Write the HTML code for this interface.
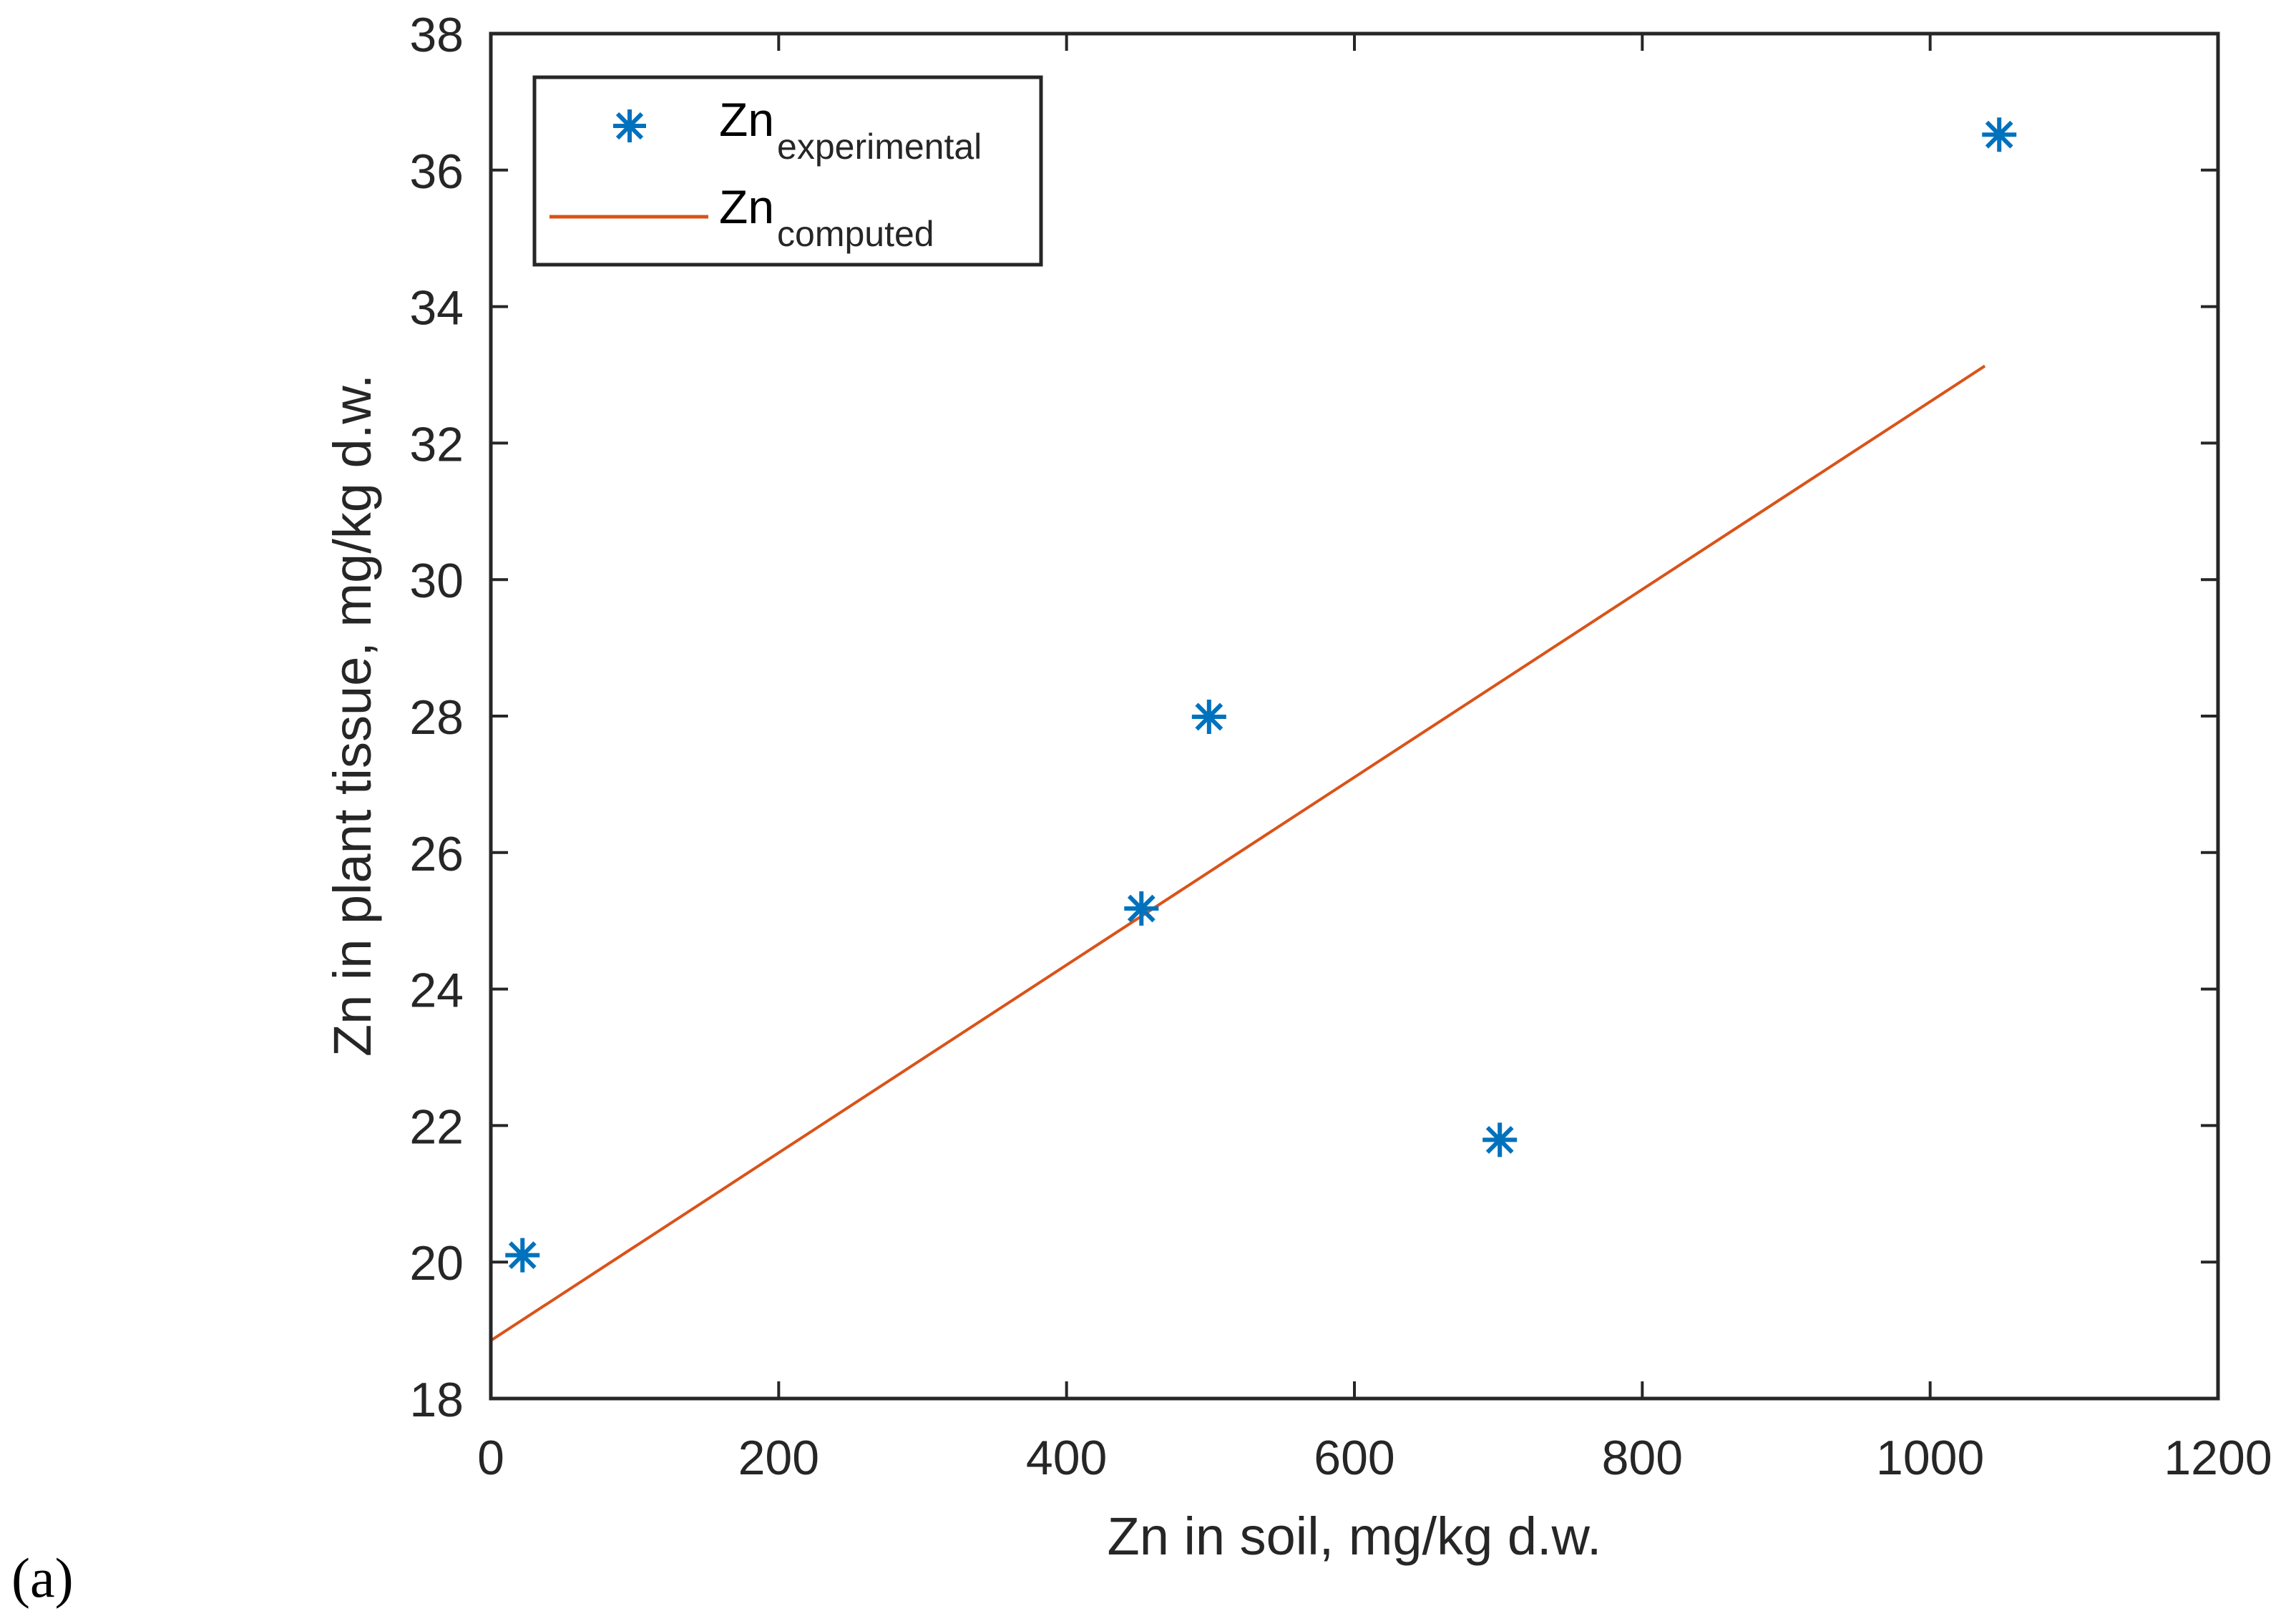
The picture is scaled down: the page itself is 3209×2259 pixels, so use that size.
<!DOCTYPE html>
<html><head><meta charset="utf-8"><style>
html,body{margin:0;padding:0;background:#fff;}
svg{display:block;font-family:"Liberation Sans",Arial,sans-serif;}
</style></head><body>
<svg id="chart" width="3209" height="2259" viewBox="0 0 3209 2259">
<g id="plot"></g>
</svg>
<script>
const xTicks=[0,200,400,600,800,1000,1200];
const yTicks=[18,20,22,24,26,28,30,32,34,36,38];
const expX=[22,452,499,701,1048];
const expY=[20.1,25.18,27.99,21.79,36.52];
const fitX=[0,1038];
const fitY=[18.85,33.13];
const L=686,R=3100,T=47,B=1955;
const sx=v=>L+(v-0)/(1200-0)*(R-L);
const sy=v=>B-(v-18)/(38-18)*(B-T);
const NS='http://www.w3.org/2000/svg';
const g=document.getElementById('plot');
function mk(tag,attrs,parent){const e=document.createElementNS(NS,tag);for(const k in attrs)e.setAttribute(k,attrs[k]);(parent||g).appendChild(e);return e;}
const fl=mk('polyline',{points:fitX.map((x,i)=>sx(x)+','+sy(fitY[i])).join(' '),fill:'none',stroke:'#D95319','stroke-width':4});


function star(cx,cy,r,parent){const s=mk('g',{stroke:'#0072BD','stroke-width':6},parent);
mk('line',{x1:cx-r,y1:cy,x2:cx+r,y2:cy},s);mk('line',{x1:cx,y1:cy-r,x2:cx,y2:cy+r},s);
const d=r*0.72;mk('line',{x1:cx-d,y1:cy-d,x2:cx+d,y2:cy+d},s);mk('line',{x1:cx-d,y1:cy+d,x2:cx+d,y2:cy-d},s);return s;}
expX.forEach((x,i)=>{const s=star(sx(x),sy(expY[i]),24);

});
const box=mk('rect',{x:L,y:T,width:R-L,height:B-T,fill:'none',stroke:'#262626','stroke-width':5});


xTicks.forEach(v=>{const x=sx(v);
mk('line',{x1:x,y1:B,x2:x,y2:B-24,stroke:'#262626','stroke-width':4});
mk('line',{x1:x,y1:T,x2:x,y2:T+24,stroke:'#262626','stroke-width':4});
const t=mk('text',{x:x,y:B+106,'text-anchor':'middle','font-size':68,fill:'#262626'});t.textContent=v;

});
yTicks.forEach(v=>{const y=sy(v);
mk('line',{x1:L,y1:y,x2:L+24,y2:y,stroke:'#262626','stroke-width':4});
mk('line',{x1:R,y1:y,x2:R-24,y2:y,stroke:'#262626','stroke-width':4});
const t=mk('text',{x:648,y:y+25,'text-anchor':'end','font-size':68,fill:'#262626'});t.textContent=v;

});
</script>
<svg style="position:absolute;left:0;top:0" width="3209" height="2259">
<text x="1893" y="2173" text-anchor="middle" font-size="74" fill="#262626" font-family="Liberation Sans, sans-serif">Zn in soil, mg/kg d.w.</text>
<text transform="translate(518,1000) rotate(-90)" text-anchor="middle" font-size="74" fill="#262626" font-family="Liberation Sans, sans-serif">Zn in plant tissue, mg/kg d.w.</text>
<g>
<rect x="747" y="108" width="708" height="262" fill="#fff" stroke="#262626" stroke-width="5"/>
<g stroke="#0072BD" stroke-width="6">
<line x1="857" y1="176" x2="903" y2="176"/><line x1="880" y1="153" x2="880" y2="199"/>
<line x1="863" y1="159" x2="897" y2="193"/><line x1="863" y1="193" x2="897" y2="159"/></g>
<line x1="768" y1="303" x2="990" y2="303" stroke="#D95319" stroke-width="5"/>
<text x="1005" y="190" font-size="66" fill="#000" font-family="Liberation Sans, sans-serif">Zn<tspan font-size="50" dx="4" dy="32" fill="#262626">experimental</tspan></text>
<text x="1005" y="312" font-size="66" fill="#000" font-family="Liberation Sans, sans-serif">Zn<tspan font-size="50" dx="4" dy="32" fill="#262626">computed</tspan></text>
</g>
<text x="16" y="2232" font-size="78" fill="#000" font-family="Liberation Serif, serif">(a)</text>
</svg>
</body></html>
